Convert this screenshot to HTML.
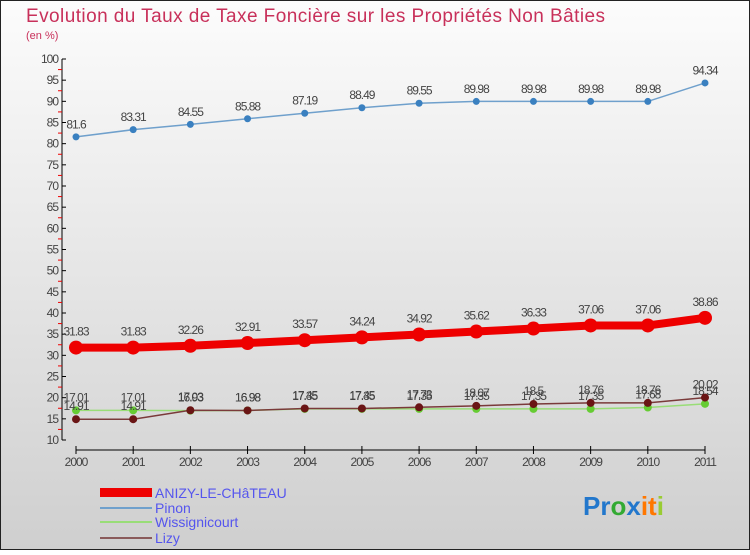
<!DOCTYPE html>
<html><head><meta charset="utf-8"><style>
body{margin:0;width:750px;height:550px;overflow:hidden;font-family:"Liberation Sans",sans-serif}
</style></head><body>
<svg width="750" height="550" xmlns="http://www.w3.org/2000/svg">
<defs><linearGradient id="bg" x1="0" y1="0" x2="0" y2="1"><stop offset="0" stop-color="#fcfcfc"/><stop offset="1" stop-color="#cfcfcf"/></linearGradient></defs>
<rect x="0.5" y="0.5" width="749" height="549" fill="url(#bg)" stroke="#222"/>
<text x="26" y="22" font-size="19" fill="#c8305a" textLength="579">Evolution du Taux de Taxe Foncière sur les Propriétés Non Bâties</text>
<text x="26" y="39" font-size="11" fill="#c8305a">(en %)</text>
<g id="axes"></g><g id="series"></g>
<g>
<rect x="100" y="488" width="52" height="9" fill="#e00"/>
<text x="155" y="498" font-size="14" fill="#5555ee">ANIZY-LE-CHâTEAU</text>
<line x1="100" y1="508" x2="152" y2="508" stroke="#6fa0cc" stroke-width="2"/>
<text x="155" y="513" font-size="14" fill="#5555ee">Pinon</text>
<line x1="100" y1="522" x2="152" y2="522" stroke="#99dd77" stroke-width="2"/>
<text x="155" y="527" font-size="14" fill="#5555ee">Wissignicourt</text>
<line x1="100" y1="538" x2="152" y2="538" stroke="#8a5a5a" stroke-width="2"/>
<text x="155" y="543" font-size="14" fill="#5555ee">Lizy</text>
</g>
<g font-size="26" font-weight="bold">
<text x="583" y="515"><tspan fill="#2277cc">Pr</tspan><tspan fill="#33aa33">o</tspan><tspan fill="#2277cc">x</tspan><tspan fill="#ff7700">it</tspan><tspan fill="#99cc33">i</tspan></text>
</g>
</svg>
<script>
const years=[2000,2001,2002,2003,2004,2005,2006,2007,2008,2009,2010,2011];
const anizy=[31.83,31.83,32.26,32.91,33.57,34.24,34.92,35.62,36.33,37.06,37.06,38.86];
const pinon=[81.6,83.31,84.55,85.88,87.19,88.49,89.55,89.98,89.98,89.98,89.98,94.34];
const wiss=[17.01,17.01,16.93,16.98,17.35,17.35,17.35,17.35,17.35,17.35,17.68,18.54];
const lizy=[14.91,14.91,17.03,16.98,17.45,17.45,17.73,18.07,18.5,18.76,18.76,20.02];
const yTicks=[10,15,20,25,30,35,40,45,50,55,60,65,70,75,80,85,90,95,100];
const NS="http://www.w3.org/2000/svg";
const X=i=>76+i*(705-76)/(years.length-1);
const Y=v=>59+(100-v)*(440-59)/90;
function mk(t,a,p){const e=document.createElementNS(NS,t);for(const k in a)e.setAttribute(k,a[k]);p.appendChild(e);return e;}
const ax=document.getElementById('axes');
const yl=mk('line',{x1:62,y1:59,x2:62,y2:440,stroke:'#000'},ax);


yTicks.forEach(v=>{
 mk('line',{x1:62,x2:66,y1:Y(v),y2:Y(v),stroke:'#000'},ax);
 if(v<100)mk('line',{x1:58,x2:62,y1:Y(v+2.5),y2:Y(v+2.5),stroke:'#e00'},ax);
 const t=mk('text',{x:58,y:Y(v)+4,'text-anchor':'end','font-size':12,fill:'#444','letter-spacing':'-1'},ax);
 t.textContent=v;
 
 
});
const xl=mk('line',{x1:76,y1:450,x2:705,y2:450,stroke:'#000'},ax);


years.forEach((y,i)=>{
 mk('line',{x1:X(i),x2:X(i),y1:446,y2:454,stroke:'#000'},ax);
 const t=mk('text',{x:X(i),y:466,'text-anchor':'middle','font-size':12,fill:'#444','letter-spacing':'-1'},ax);
 t.textContent=y;
 
 
});
const sg=document.getElementById('series');
function series(d,name,col,dot,w,r){
 const g=mk('g',{},sg);
 
 
 mk('polyline',{points:d.map((v,i)=>X(i)+','+Y(v)).join(' '),fill:'none',stroke:col,'stroke-width':w},g);
 d.forEach((v,i)=>{
  const c=mk('circle',{cx:X(i),cy:Y(v),r:r,fill:dot},g);
  
  
  const t=mk('text',{x:X(i),y:Y(v)-r-5,'text-anchor':'middle','font-size':12,fill:'#444','letter-spacing':'-1'},g);
  t.textContent=v;
  
  
 });
}
series(pinon,'pinon','#6fa0cc','#3a80c0',1.5,3.5);
series(wiss,'wissignicourt','#99dd77','#66cc33',1.5,4);
series(lizy,'lizy','#7a3a3a','#6a1515',1.5,4);
series(anizy,'anizy','#ee0000','#ee0000',8,7);
</script>
</body></html>
